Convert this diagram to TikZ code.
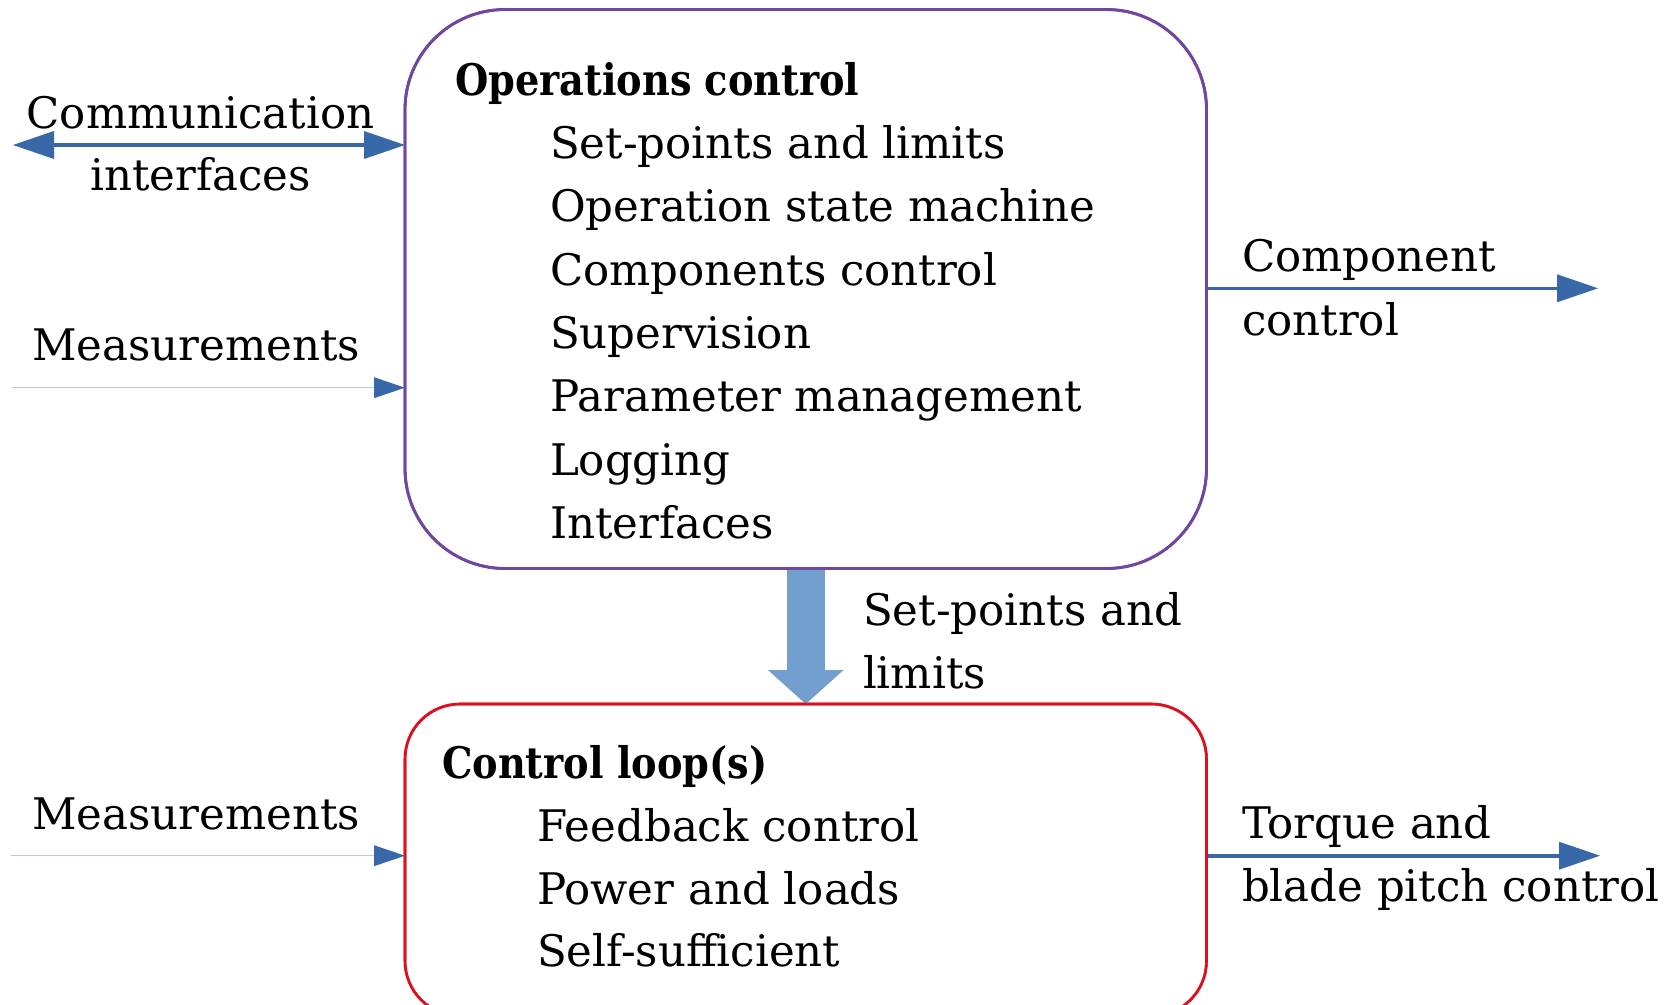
\documentclass[tikz,border=0pt]{standalone}
\usepackage{fontspec}
\setmainfont{DejaVu Serif}
\usepackage{graphicx}
\usetikzlibrary{arrows.meta}
\definecolor{arrowblue}{RGB}{56,104,168}
\definecolor{paleblue}{RGB}{115,159,207}
\definecolor{thinblue}{RGB}{184,198,222}
\definecolor{boxpurple}{RGB}{112,70,160}
\definecolor{boxred}{RGB}{222,16,32}
\newcommand\bigfs{\fontsize{43.5pt}{52pt}\selectfont}
\newcommand\headtxt[1]{\scalebox{0.88}[1]{\bfseries #1}}
\begin{document}
\begin{tikzpicture}[x=1pt,y=-1pt,
  txt/.style={anchor=base west,inner sep=0pt,outer sep=0pt,font=\bigfs},
  ctxt/.style={anchor=base,inner sep=0pt,outer sep=0pt,font=\bigfs},
  opsbox/.style={draw=boxpurple,line width=2.8pt,rounded corners=100pt,minimum width=801.5pt,minimum height=559pt,inner sep=0pt,outer sep=0pt},
  ctrlbox/.style={draw=boxred,line width=2.6pt,rounded corners=55pt,minimum width=801.5pt,minimum height=312pt,inner sep=0pt,outer sep=0pt},
  bluearrow/.style={draw=arrowblue,line width=3.6pt,-{Triangle[length=41pt,width=28pt,line width=0pt]}},
  dblarrow/.style={draw=arrowblue,line width=3.6pt,{Triangle[length=41pt,width=28pt,line width=0pt]}-{Triangle[length=41pt,width=28pt,line width=0pt]}},
  thinarrow/.style={draw=thinblue,line width=1.2pt,-{Triangle[length=31pt,width=21pt,line width=0pt,color=arrowblue]}},
  bigarrow/.style={draw=paleblue,line width=38.3pt,-{Triangle[length=34pt,width=75.7pt,line width=0pt]}}
]
\useasboundingbox (0,0) rectangle (1665,1004);
\clip (0,0) rectangle (1665,1004);

% boxes
\node[opsbox] (ops) at (805.75,289) {};
\node[ctrlbox] (ctrl) at (805.75,860) {};

% free ends
\coordinate (commL) at (13,145);
\coordinate (measTopL) at (12,387.7);
\coordinate (measBotL) at (11,855.7);
\coordinate (compR) at (1598,288.3);
\coordinate (torqR) at (1600,855.7);

% connectors
\draw[bigarrow] (ops.south) -- (ctrl.north);
\draw[dblarrow] (commL) -- (commL -| ops.west);
\draw[thinarrow] (measTopL) -- (measTopL -| ops.west);
\draw[thinarrow] (measBotL) -- (measBotL -| ctrl.west);
\draw[bluearrow] (ops.east |- compR) -- (compR);
\draw[bluearrow] (ctrl.east |- torqR) -- (torqR);

% redraw box outlines on top of the arrow ends
\draw[boxpurple,line width=2.8pt,rounded corners=100pt] (ops.north west) rectangle (ops.south east);
\draw[boxred,line width=2.6pt,rounded corners=55pt] (ctrl.north west) rectangle (ctrl.south east);

% operations control text
\node[txt] (opsT) at (455,95) {\headtxt{Operations control}};
\node[txt] (o1) at (550,158.5) {Set-points and limits};
\node[txt] (o2) at (550,221.8) {Operation state machine};
\node[txt] (o3) at (550,285.1) {Components control};
\node[txt] (o4) at (550,348.4) {Supervision};
\node[txt] (o5) at (550,411.7) {Parameter management};
\node[txt] (o6) at (550,475.0) {Logging};
\node[txt] (o7) at (550,538.3) {Interfaces};

% control loop text
\node[txt] (ctrlT) at (442,778.3) {\headtxt{Control loop(s)}};
\node[txt] (c1) at (537,841.5) {Feedback control};
\node[txt] (c2) at (537,904) {Power and loads};
\node[txt] (c3) at (537,966.5) {Self-sufficient};

% side labels
\node[ctxt] (commA) at (200.5,128.3) {Communication};
\node[ctxt] (commB) at (200.5,190) {interfaces};
\node[ctxt] (measA) at (196,360) {Measurements};
\node[ctxt] (measB) at (196,829) {Measurements};
\node[txt] (compA) at (1242,271.7) {Component};
\node[txt] (compB) at (1242,335) {control};
\node[txt] (torqA) at (1242,838) {Torque and};
\node[txt] (torqB) at (1242,901.7) {blade pitch control};
\node[txt] (spA) at (863,625) {Set-points and};
\node[txt] (spB) at (863,688) {limits};
\end{tikzpicture}
\end{document}
